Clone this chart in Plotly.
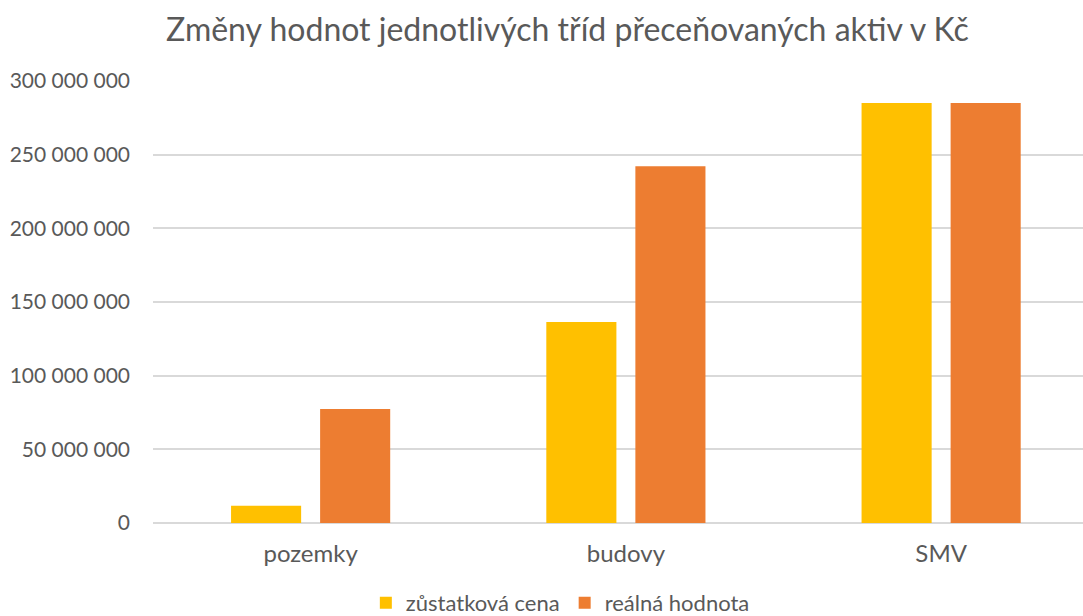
import plotly.graph_objects as go

categories = ["pozemky", "budovy", "SMV"]
zustatkova_cena = [11_700_000, 136_400_000, 285_100_000]
realna_hodnota = [77_300_000, 242_200_000, 285_100_000]
tick_values = [0, 50_000_000, 100_000_000, 150_000_000, 200_000_000, 250_000_000, 300_000_000]

FONT = "Lato"
GRAY = "#595959"

fig = go.Figure()
fig.add_trace(go.Bar(name="zůstatková cena", x=categories, y=zustatkova_cena,
                     marker=dict(color="#FFC000", line=dict(width=0))))
fig.add_trace(go.Bar(name="reálná hodnota", x=categories, y=realna_hodnota,
                     marker=dict(color="#ED7D31", line=dict(width=0))))

fig.update_layout(
    width=1083, height=616,
    paper_bgcolor="white", plot_bgcolor="white",
    separators=", ",
    barmode="group", bargap=0.435, bargroupgap=0.213,
    margin=dict(l=153, r=0, t=81, b=93, autoexpand=False),
    title=dict(text="Změny hodnot jednotlivých tříd přeceňovaných aktiv v Kč",
               x=0.524, xanchor="center", y=0.951, yanchor="middle",
               font=dict(family=FONT, size=32, color=GRAY)),
    font=dict(family=FONT, color=GRAY, size=21),
    legend=dict(orientation="h", x=0.438, xanchor="center", y=-0.181, yanchor="middle",
                font=dict(family=FONT, size=22, color=GRAY),
                itemwidth=30, traceorder="normal"),
    showlegend=True,
)
fig.update_xaxes(range=[-0.5, 2.45], showgrid=False, showline=False, zeroline=False,
                 ticks="", tickfont=dict(family=FONT, size=24, color=GRAY),
                 ticklabelstandoff=14, automargin=False)
fig.update_yaxes(range=[0, 300_000_000], tickvals=tick_values, tickformat=",d",
                 showgrid=True, gridcolor="#D9D9D9", gridwidth=1.5,
                 zeroline=True, zerolinecolor="#D9D9D9", zerolinewidth=1.5,
                 showline=False, ticks="",
                 tickfont=dict(family=FONT, size=21, color=GRAY),
                 ticklabelstandoff=22, automargin=False)

fig.write_html("out.html", config={"displayModeBar": False},
               post_script="document.body.style.margin='0';")
